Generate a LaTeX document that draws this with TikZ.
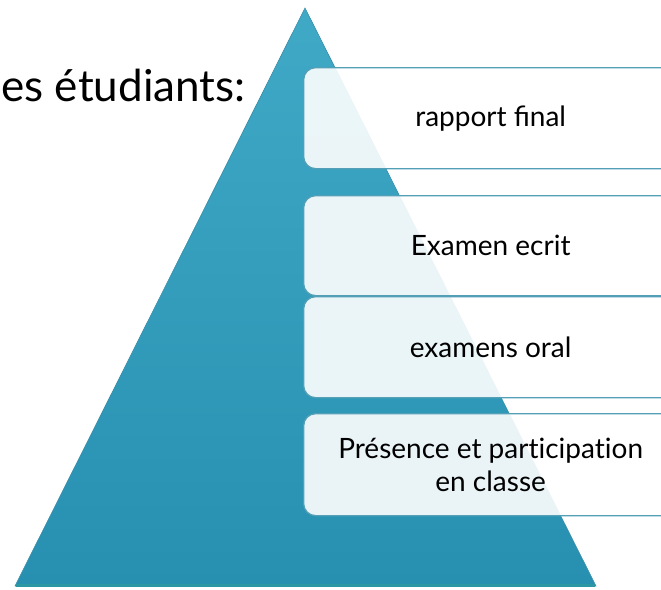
\documentclass[tikz,border=0pt]{standalone}
\usepackage{fontspec}
\setmainfont{Lato}
\begin{document}
\begin{tikzpicture}[x=1pt,y=-1pt,
  stage/.style={draw=boxline, line width=1.3pt, fill=white, fill opacity=0.9, text opacity=1,
    rounded corners=12pt, minimum width=374pt, anchor=north west, inner sep=0pt,
    align=center, font=\fontsize{28}{33}\selectfont, text=black}]
\definecolor{tealtop}{HTML}{40A9C6}
\definecolor{tealbot}{HTML}{2790B1}
\definecolor{boxline}{HTML}{539FB6}
\definecolor{baseband}{HTML}{2C98A3}
\useasboundingbox (0,0) rectangle (661,589);
\shade[top color=tealtop, bottom color=tealbot, draw=tealbot!80!gray, line width=0.6pt]
  (305,8) -- (596,586) -- (15,586) -- cycle;
\draw[baseband, line width=3pt] (16,585) -- (595,585);
\node[anchor=base east, font=\fontsize{44}{52}\selectfont] (title) at (249,101) {es étudiants:};
\node[stage, minimum height=101pt] (s1) at (303,67) {rapport final};
\node[stage, minimum height=100pt] (s2) at (303,195) {Examen ecrit};
\node[stage, minimum height=101pt] (s3) at (303,296) {examens oral};
\node[stage, minimum height=102pt] (s4) at (303,413) {Présence et part\kern0pt icipat\kern0pt ion\\en classe};
\end{tikzpicture}
\end{document}
